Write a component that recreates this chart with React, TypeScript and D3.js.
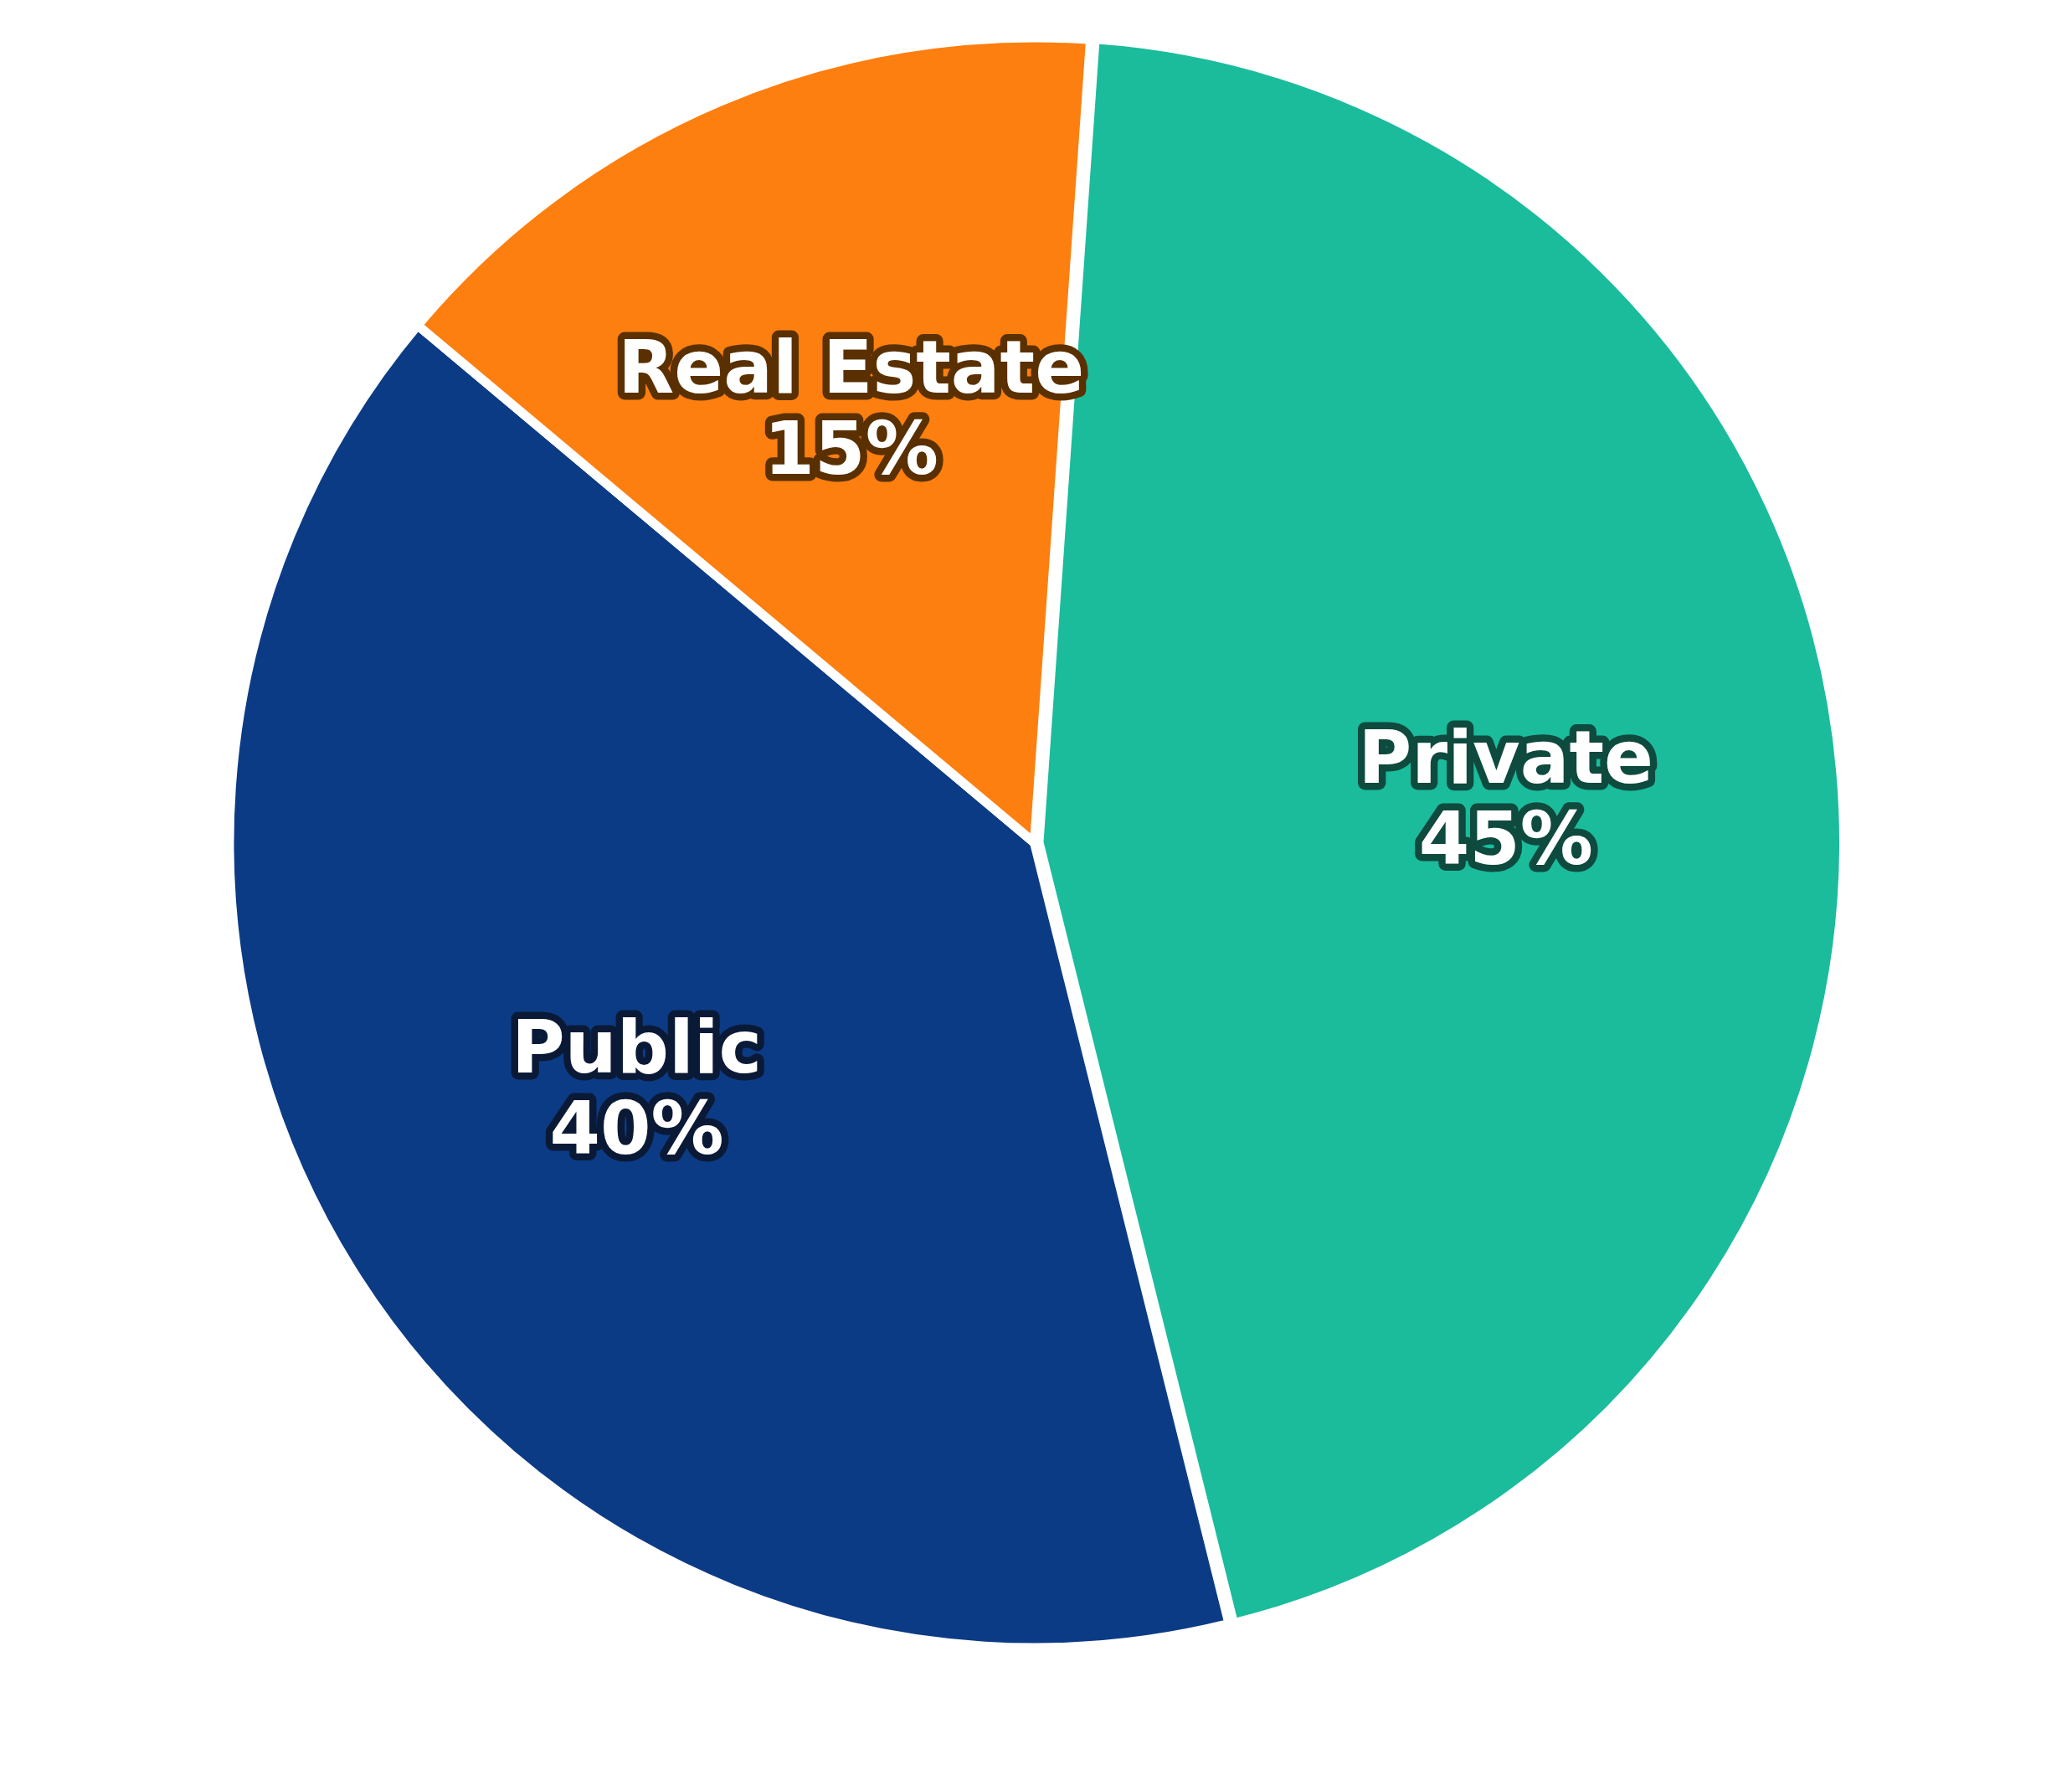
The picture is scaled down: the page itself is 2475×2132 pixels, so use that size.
import React from "react";
import * as d3 from "d3";

const categories = ["Private", "Public", "Real Estate"];
const values = [45, 40, 15];
const colors = ["#1abc9c", "#0c3b86", "#fd7f10"];
const outlineColors = ["#0e4a3e", "#0a1a36", "#5a3000"];
const explode = [5.5, 0, 0];

const W = 2475;
const H = 2132;
const cx = 1235.5;
const cy = 1006.5;
const R = 961.5;
const labelR = 560;
const startDeg = 4;

export default function App() {
  const pie = d3
    .pie<number>()
    .sort(null)
    .value((d) => d)
    .startAngle((startDeg * Math.PI) / 180)
    .endAngle((startDeg * Math.PI) / 180 + 2 * Math.PI);
  const arcs = pie(values);
  const arcGen = d3.arc<d3.PieArcDatum<number>>().innerRadius(0).outerRadius(R);
  const total = d3.sum(values);

  return (
    <svg
      width={W}
      height={H}
      style={{ position: "absolute", left: 0, top: 0, background: "#ffffff" }}
    >
      <g transform={`translate(${cx},${cy})`}>
        {arcs.map((a, i) => {
          const mid = (a.startAngle + a.endAngle) / 2;
          const ox = Math.sin(mid) * explode[i];
          const oy = -Math.cos(mid) * explode[i];
          return (
            <path
              key={categories[i]}
              d={arcGen(a) || ""}
              transform={`translate(${ox},${oy})`}
              fill={colors[i]}
              stroke="#ffffff"
              strokeWidth={11}
              strokeLinejoin="miter"
            />
          );
        })}
        {arcs.map((a, i) => {
          const mid = (a.startAngle + a.endAngle) / 2;
          const r = labelR + explode[i];
          const lx = Math.sin(mid) * r;
          const ly = -Math.cos(mid) * r;
          const b1 = ly - 22;
          const pct = `${Math.round((values[i] / total) * 100)}%`;
          const common = {
            textAnchor: "middle" as const,
            fontFamily: "'DejaVu Sans', sans-serif",
            fontWeight: "bold" as const,
            fontSize: 87,
            fill: "#ffffff",
            stroke: outlineColors[i],
            strokeWidth: 17,
            strokeLinejoin: "round" as const,
            paintOrder: "stroke",
          };
          return (
            <g key={"l" + categories[i]}>
              <text x={lx} y={b1} {...common}>
                {categories[i]}
              </text>
              <text x={lx} y={b1 + 97} {...common}>
                {pct}
              </text>
            </g>
          );
        })}
      </g>
    </svg>
  );
}
